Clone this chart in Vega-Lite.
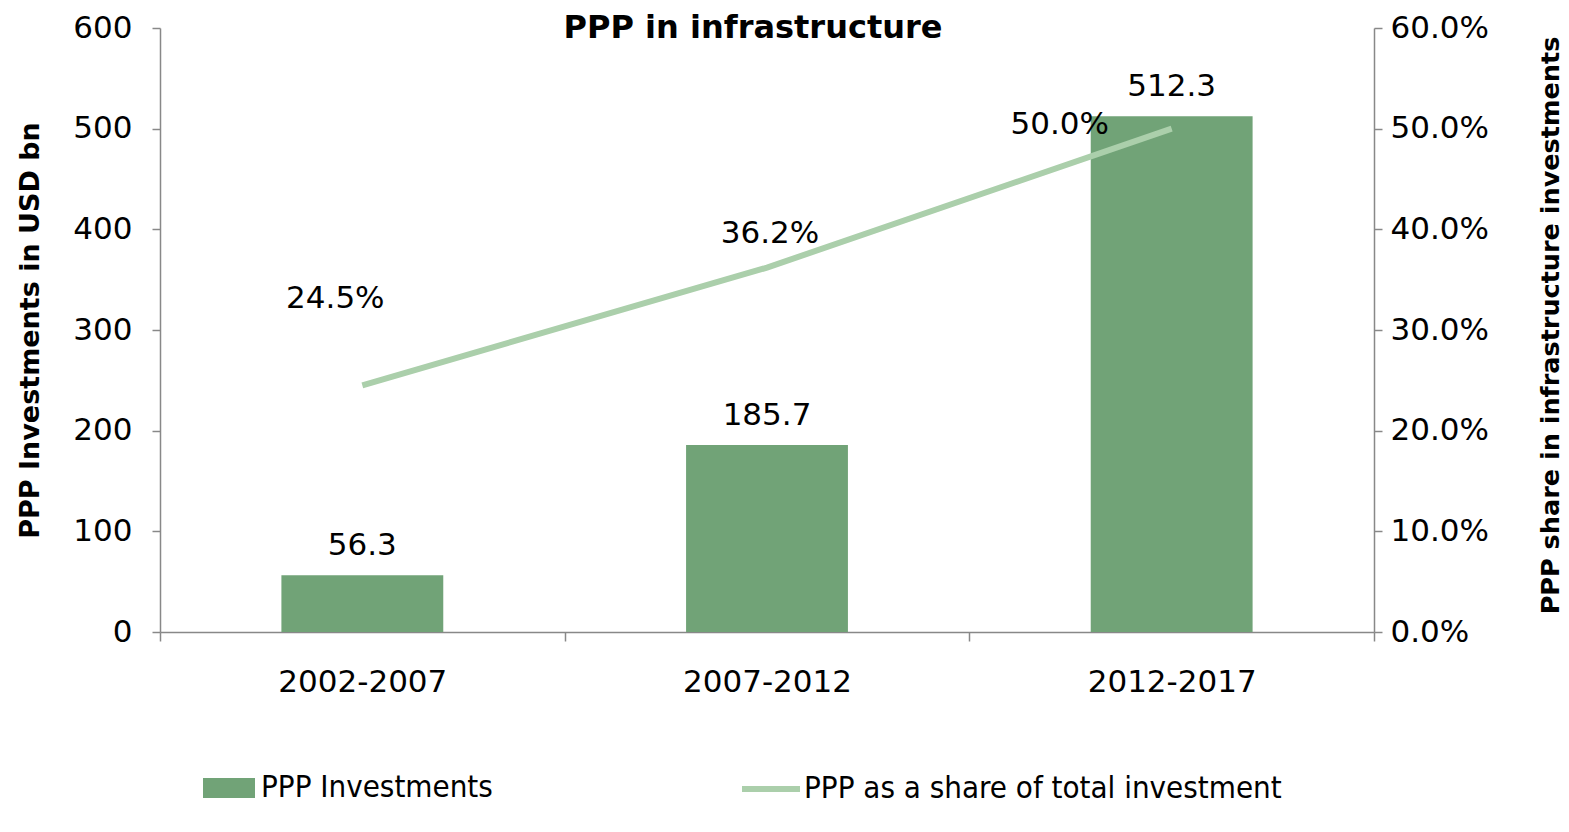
{
  "$schema": "https://vega.github.io/schema/vega-lite/v6.json",
  "width": 1214,
  "height": 604,
  "autosize": {"type": "none"},
  "padding": {"left": 160, "top": 28, "right": 195, "bottom": 200},
  "background": "white",
  "config": {
    "font": "DejaVu Sans",
    "view": {"stroke": null},
    "axis": {"domainColor": "#888888", "tickColor": "#888888", "labelColor": "#000000", "titleColor": "#000000", "grid": false, "labelFont": "DejaVu Sans", "titleFont": "DejaVu Sans"}
  },
  "title": {"text": "PPP in infrastructure", "fontSize": 32, "fontWeight": "bold", "font": "DejaVu Sans", "color": "#000000", "anchor": "middle", "frame": "group", "baseline": "alphabetic", "offset": -58, "dx": -14},
  "data": {"values": [
    {"period": "2002-2007", "invest": 56.3, "share": 0.245, "investLabel": "56.3", "shareLabel": "24.5%"},
    {"period": "2007-2012", "invest": 185.7, "share": 0.362, "investLabel": "185.7", "shareLabel": "36.2%"},
    {"period": "2012-2017", "invest": 512.3, "share": 0.5, "investLabel": "512.3", "shareLabel": "50.0%"}
  ]},
  "encoding": {
    "x": {"field": "period", "type": "nominal", "sort": null,
      "scale": {"paddingInner": 0, "paddingOuter": 0},
      "axis": {"title": null, "labelAngle": 0, "labelFontSize": 31, "labelPadding": 26, "tickBand": "extent", "tickSize": 9, "domainWidth": 1.5, "tickWidth": 1.5}}
  },
  "layer": [
    {
      "layer": [
        {
          "mark": {"type": "bar", "width": {"band": 0.4}, "color": "#71a377"},
          "encoding": {
            "y": {"field": "invest", "type": "quantitative", "scale": {"domain": [0, 600]},
              "axis": {"values": [0, 100, 200, 300, 400, 500, 600], "title": "PPP Investments in USD bn", "titleFontSize": 27, "titleFontWeight": "bold", "titleAngle": -90, "titleX": -130, "titleY": 302, "titleAlign": "center", "titleBaseline": "middle", "labelFontSize": 31, "labelPadding": 20, "tickSize": 8, "domainWidth": 1.5, "tickWidth": 1.5}},
            "fill": {"datum": "PPP Investments", "type": "nominal", "scale": {"range": ["#71a377"]},
              "legend": {"orient": "none", "legendX": 43, "legendY": 734, "title": null, "symbolType": "M-1,-0.385H1V0.385H-1Z", "symbolSize": 2704, "symbolStrokeWidth": 0, "labelFontSize": 31, "labelFont": "DejaVu Sans Condensed", "labelColor": "#000000", "labelOffset": 6, "labelLimit": 0}}
          }
        },
        {
          "mark": {"type": "text", "fontSize": 31, "baseline": "alphabetic", "dy": -20, "color": "#000000"},
          "encoding": {
            "y": {"field": "invest", "type": "quantitative"},
            "text": {"field": "investLabel"}
          }
        }
      ]
    },
    {
      "layer": [
        {
          "mark": {"type": "line", "strokeWidth": 6, "color": "#abcfab"},
          "encoding": {
            "y": {"field": "share", "type": "quantitative", "scale": {"domain": [0, 0.6]},
              "axis": {"orient": "right", "values": [0, 0.1, 0.2, 0.3, 0.4, 0.5, 0.6], "format": ".1%", "title": "PPP share in infrastructure investments", "titleFontSize": 25.5, "titleFontWeight": "bold", "titleAngle": -90, "titleX": 176, "titleY": 297, "titleAlign": "center", "titleBaseline": "middle", "labelFontSize": 31, "labelPadding": 8, "tickSize": 8, "domainWidth": 1.5, "tickWidth": 1.5}},
            "stroke": {"datum": "PPP as a share of total investment", "type": "nominal", "scale": {"range": ["#abcfab"]},
              "legend": {"orient": "none", "legendX": 579, "legendY": 729, "title": null, "symbolType": "stroke", "symbolSize": 3364, "symbolStrokeWidth": 6, "labelFontSize": 31, "labelFont": "DejaVu Sans Condensed", "labelColor": "#000000", "labelOffset": 1, "labelLimit": 0}}
          }
        },
        {
          "transform": [{"filter": "datum.period == '2002-2007'"}],
          "mark": {"type": "text", "fontSize": 31, "baseline": "alphabetic", "dx": -27, "dy": -77, "color": "#000000"},
          "encoding": {"y": {"field": "share", "type": "quantitative"}, "text": {"field": "shareLabel"}}
        },
        {
          "transform": [{"filter": "datum.period == '2007-2012'"}],
          "mark": {"type": "text", "fontSize": 31, "baseline": "alphabetic", "dx": 3, "dy": -25, "color": "#000000"},
          "encoding": {"y": {"field": "share", "type": "quantitative"}, "text": {"field": "shareLabel"}}
        },
        {
          "transform": [{"filter": "datum.period == '2012-2017'"}],
          "mark": {"type": "text", "fontSize": 31, "baseline": "alphabetic", "dx": -112, "dy": 5, "color": "#000000"},
          "encoding": {"y": {"field": "share", "type": "quantitative"}, "text": {"field": "shareLabel"}}
        }
      ]
    }
  ],
  "resolve": {"scale": {"y": "independent"}}
}
